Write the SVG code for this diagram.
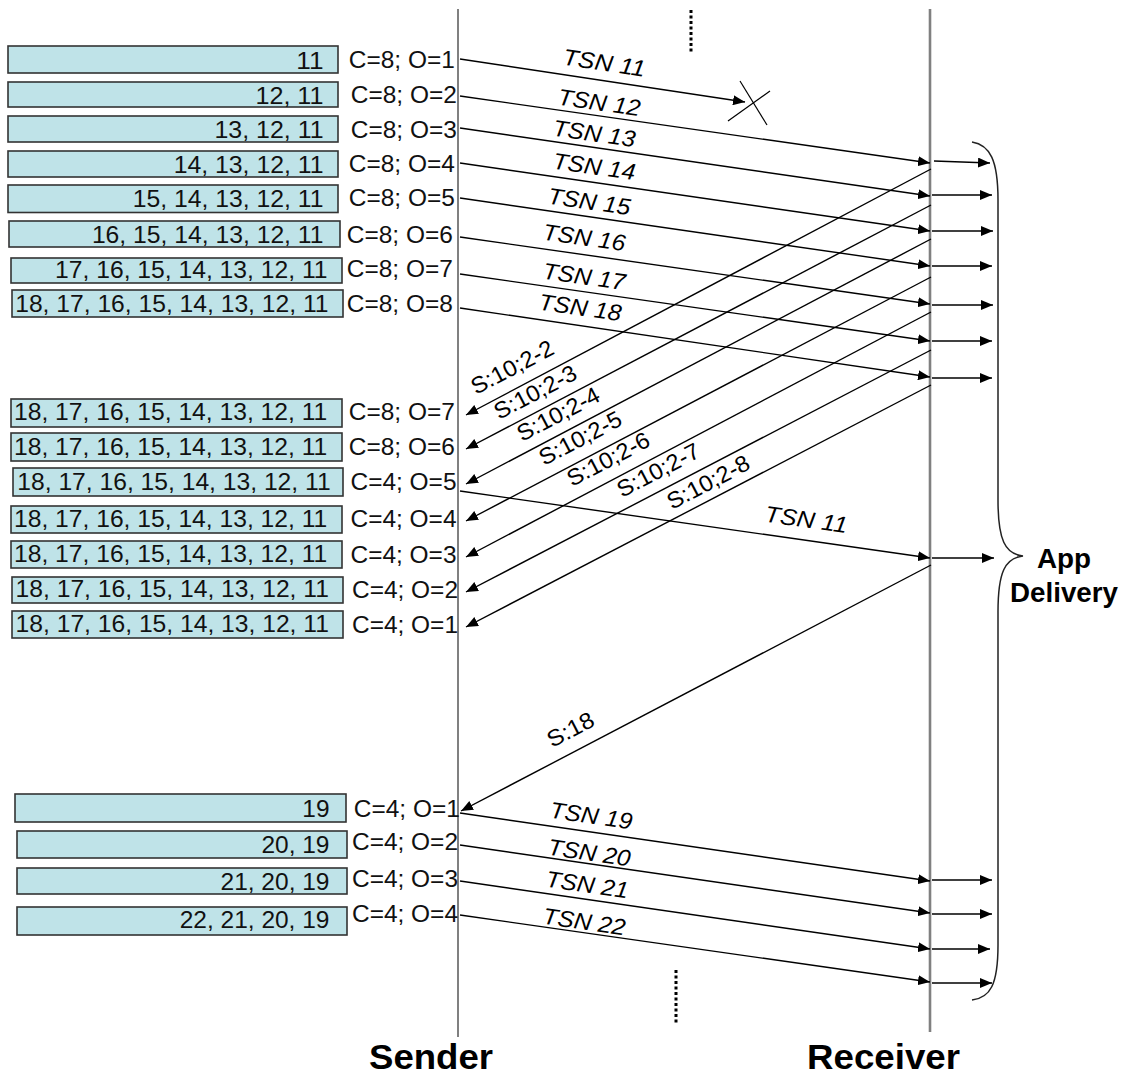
<svg xmlns="http://www.w3.org/2000/svg" width="1128" height="1074" viewBox="0 0 1128 1074">
<style>
.box{fill:#bfe3e8;stroke:#333;stroke-width:1.6}
.bt{font-family:"Liberation Sans",Arial,sans-serif;font-size:23px;fill:#111}
.cl{font-family:"Liberation Sans",Arial,sans-serif;font-size:23px;fill:#111}
.tsn{font-family:"Liberation Sans",Arial,sans-serif;font-size:23px;font-style:italic;fill:#000}
.sl{font-family:"Liberation Sans",Arial,sans-serif;font-size:23px;fill:#000}
.big{font-family:"Liberation Sans",Arial,sans-serif;font-weight:bold;fill:#000}
.life{stroke:#808080;fill:none}
.ar{stroke:#000;stroke-width:1.4;fill:none;marker-end:url(#ah)}
.dots{stroke:#000;stroke-width:3;stroke-dasharray:3 2.5;fill:none}
</style>
<defs>
<marker id="ah" viewBox="0 0 12 10" refX="12" refY="5" markerWidth="12" markerHeight="10" markerUnits="userSpaceOnUse" orient="auto"><path d="M0,0 L12,5 L0,10 z" fill="#000"/></marker>
</defs>
<rect width="1128" height="1074" fill="#fff"/>

<g id="lifelines">
<line class="life" x1="458" y1="9" x2="458" y2="1037" stroke-width="2"/>
<line class="life" x1="930" y1="9" x2="930" y2="1032" stroke-width="2.6"/>
<line class="dots" x1="691" y1="10" x2="691" y2="52"/>
<line class="dots" x1="676" y1="970" x2="676" y2="1023"/>
</g>

<g id="send-top">
<g id="b1"><rect class="box" x="8" y="46" width="330" height="27"/><text class="bt" x="296.3" y="69" textLength="27.2" lengthAdjust="spacingAndGlyphs">11</text><text class="cl" x="348.8" y="68" textLength="106" lengthAdjust="spacingAndGlyphs">C=8; O=1</text></g>
<g id="b2"><rect class="box" x="8" y="82" width="330" height="25"/><text class="bt" x="255.4" y="104" textLength="68.1" lengthAdjust="spacingAndGlyphs">12, 11</text><text class="cl" x="350.8" y="103" textLength="106" lengthAdjust="spacingAndGlyphs">C=8; O=2</text></g>
<g id="b3"><rect class="box" x="8" y="116" width="330" height="26"/><text class="bt" x="214.5" y="138" textLength="109" lengthAdjust="spacingAndGlyphs">13, 12, 11</text><text class="cl" x="350.8" y="138" textLength="106" lengthAdjust="spacingAndGlyphs">C=8; O=3</text></g>
<g id="b4"><rect class="box" x="8" y="151" width="330" height="26"/><text class="bt" x="173.7" y="173" textLength="149.8" lengthAdjust="spacingAndGlyphs">14, 13, 12, 11</text><text class="cl" x="348.8" y="172" textLength="106" lengthAdjust="spacingAndGlyphs">C=8; O=4</text></g>
<g id="b5"><rect class="box" x="8" y="185" width="330" height="27.5"/><text class="bt" x="132.8" y="207" textLength="190.7" lengthAdjust="spacingAndGlyphs">15, 14, 13, 12, 11</text><text class="cl" x="348.8" y="206" textLength="106" lengthAdjust="spacingAndGlyphs">C=8; O=5</text></g>
<g id="b6"><rect class="box" x="9" y="221" width="331" height="26"/><text class="bt" x="91.9" y="243" textLength="231.6" lengthAdjust="spacingAndGlyphs">16, 15, 14, 13, 12, 11</text><text class="cl" x="346.8" y="243" textLength="106" lengthAdjust="spacingAndGlyphs">C=8; O=6</text></g>
<g id="b7"><rect class="box" x="11" y="258" width="331" height="25"/><text class="bt" x="55.1" y="278" textLength="272.4" lengthAdjust="spacingAndGlyphs">17, 16, 15, 14, 13, 12, 11</text><text class="cl" x="346.8" y="277" textLength="106" lengthAdjust="spacingAndGlyphs">C=8; O=7</text></g>
<g id="b8"><rect class="box" x="12" y="290" width="331" height="27"/><text class="bt" x="15.2" y="312" textLength="313.3" lengthAdjust="spacingAndGlyphs">18, 17, 16, 15, 14, 13, 12, 11</text><text class="cl" x="346.8" y="312" textLength="106" lengthAdjust="spacingAndGlyphs">C=8; O=8</text></g>
</g>

<g id="send-mid">
<g id="c1"><rect class="box" x="11" y="399" width="331" height="28"/><text class="bt" x="14" y="420" textLength="313.3" lengthAdjust="spacingAndGlyphs">18, 17, 16, 15, 14, 13, 12, 11</text><text class="cl" x="348.8" y="420" textLength="106" lengthAdjust="spacingAndGlyphs">C=8; O=7</text></g>
<g id="c2"><rect class="box" x="11" y="433" width="331" height="28"/><text class="bt" x="14" y="455" textLength="313.3" lengthAdjust="spacingAndGlyphs">18, 17, 16, 15, 14, 13, 12, 11</text><text class="cl" x="348.8" y="455" textLength="106" lengthAdjust="spacingAndGlyphs">C=8; O=6</text></g>
<g id="c3"><rect class="box" x="13" y="468" width="330" height="28"/><text class="bt" x="17.3" y="490" textLength="313.3" lengthAdjust="spacingAndGlyphs">18, 17, 16, 15, 14, 13, 12, 11</text><text class="cl" x="350.5" y="490" textLength="106" lengthAdjust="spacingAndGlyphs">C=4; O=5</text></g>
<g id="c4"><rect class="box" x="11" y="506" width="331" height="27"/><text class="bt" x="14" y="527" textLength="313.3" lengthAdjust="spacingAndGlyphs">18, 17, 16, 15, 14, 13, 12, 11</text><text class="cl" x="350.5" y="527" textLength="106" lengthAdjust="spacingAndGlyphs">C=4; O=4</text></g>
<g id="c5"><rect class="box" x="11" y="541" width="331" height="27"/><text class="bt" x="14" y="562" textLength="313.3" lengthAdjust="spacingAndGlyphs">18, 17, 16, 15, 14, 13, 12, 11</text><text class="cl" x="350.5" y="563" textLength="106" lengthAdjust="spacingAndGlyphs">C=4; O=3</text></g>
<g id="c6"><rect class="box" x="12" y="577" width="331" height="26"/><text class="bt" x="15.6" y="597" textLength="313.3" lengthAdjust="spacingAndGlyphs">18, 17, 16, 15, 14, 13, 12, 11</text><text class="cl" x="352" y="598" textLength="106" lengthAdjust="spacingAndGlyphs">C=4; O=2</text></g>
<g id="c7"><rect class="box" x="12" y="611" width="331" height="27"/><text class="bt" x="15.6" y="632" textLength="313.3" lengthAdjust="spacingAndGlyphs">18, 17, 16, 15, 14, 13, 12, 11</text><text class="cl" x="352" y="633" textLength="106" lengthAdjust="spacingAndGlyphs">C=4; O=1</text></g>
</g>

<g id="send-bottom">
<g id="d1"><rect class="box" x="15" y="794" width="331" height="28"/><text class="bt" x="302.3" y="817" textLength="27.2" lengthAdjust="spacingAndGlyphs">19</text><text class="cl" x="353.8" y="817" textLength="106" lengthAdjust="spacingAndGlyphs">C=4; O=1</text></g>
<g id="d2"><rect class="box" x="17" y="831" width="330" height="27"/><text class="bt" x="261.4" y="853" textLength="68.1" lengthAdjust="spacingAndGlyphs">20, 19</text><text class="cl" x="352" y="850" textLength="106" lengthAdjust="spacingAndGlyphs">C=4; O=2</text></g>
<g id="d3"><rect class="box" x="17" y="868" width="330" height="26"/><text class="bt" x="220.5" y="890" textLength="109" lengthAdjust="spacingAndGlyphs">21, 20, 19</text><text class="cl" x="352" y="887" textLength="106" lengthAdjust="spacingAndGlyphs">C=4; O=3</text></g>
<g id="d4"><rect class="box" x="17" y="907" width="330" height="28"/><text class="bt" x="179.7" y="928" textLength="149.8" lengthAdjust="spacingAndGlyphs">22, 21, 20, 19</text><text class="cl" x="352" y="922" textLength="106" lengthAdjust="spacingAndGlyphs">C=4; O=4</text></g>
</g>

<g id="connectors">
<line class="ar" x1="460" y1="59" x2="745" y2="102"/>
<line class="ar" x1="460" y1="96" x2="930" y2="163"/>
<line class="ar" x1="460" y1="128" x2="930" y2="196"/>
<line class="ar" x1="460" y1="163" x2="930" y2="231"/>
<line class="ar" x1="460" y1="198" x2="930" y2="266"/>
<line class="ar" x1="460" y1="237" x2="930" y2="304"/>
<line class="ar" x1="460" y1="274" x2="930" y2="341"/>
<line class="ar" x1="460" y1="308" x2="930" y2="377"/>

<line class="ar" x1="931" y1="169" x2="466" y2="415"/>
<line class="ar" x1="931" y1="205" x2="466" y2="449"/>
<line class="ar" x1="931" y1="239" x2="466" y2="484"/>
<line class="ar" x1="931" y1="277" x2="466" y2="521"/>
<line class="ar" x1="931" y1="312" x2="466" y2="557"/>
<line class="ar" x1="931" y1="350" x2="466" y2="592"/>
<line class="ar" x1="931" y1="385" x2="466" y2="627"/>

<line class="ar" x1="460" y1="491" x2="930" y2="558"/>
<line class="ar" x1="931" y1="565" x2="461" y2="811"/>

<line class="ar" x1="460" y1="813" x2="930" y2="881"/>
<line class="ar" x1="460" y1="845" x2="930" y2="913"/>
<line class="ar" x1="460" y1="881" x2="930" y2="949"/>
<line class="ar" x1="460" y1="915" x2="930" y2="982"/>

<line class="ar" x1="934" y1="161" x2="990" y2="163"/>
<line class="ar" x1="932" y1="195" x2="992" y2="195"/>
<line class="ar" x1="932" y1="231" x2="993" y2="231"/>
<line class="ar" x1="932" y1="266" x2="992" y2="266"/>
<line class="ar" x1="932" y1="305" x2="993" y2="305"/>
<line class="ar" x1="932" y1="341" x2="992" y2="341"/>
<line class="ar" x1="932" y1="378" x2="992" y2="378"/>
<line class="ar" x1="932" y1="558" x2="994" y2="558"/>
<line class="ar" x1="932" y1="880" x2="992" y2="880"/>
<line class="ar" x1="932" y1="914" x2="992" y2="914"/>
<line class="ar" x1="932" y1="949" x2="990" y2="949"/>
<line class="ar" x1="932" y1="983" x2="992" y2="983"/>

<g id="lost" stroke="#000" stroke-width="1.2">
<line x1="728" y1="121" x2="770" y2="91"/>
<line x1="740" y1="81" x2="767" y2="125"/>
</g>
<path id="brace" d="M972,142 C990,145 998,160 998,200 L998,500 C998,540 1005,554 1023,556 C1005,558 998,572 998,612 L998,945 C998,985 990,998 972,1000" fill="none" stroke="#222" stroke-width="1.5"/>
</g>

<g id="labels">
<text class="tsn" x="562" y="64.5" transform="rotate(8.5 562 64.5)" textLength="83" lengthAdjust="spacingAndGlyphs">TSN 11</text>
<text class="tsn" x="557" y="104.5" transform="rotate(8.1 557 104.5)" textLength="83" lengthAdjust="spacingAndGlyphs">TSN 12</text>
<text class="tsn" x="552" y="135.5" transform="rotate(8.1 552 135.5)" textLength="83" lengthAdjust="spacingAndGlyphs">TSN 13</text>
<text class="tsn" x="552" y="168.5" transform="rotate(8.1 552 168.5)" textLength="83" lengthAdjust="spacingAndGlyphs">TSN 14</text>
<text class="tsn" x="547" y="203.5" transform="rotate(8.1 547 203.5)" textLength="83" lengthAdjust="spacingAndGlyphs">TSN 15</text>
<text class="tsn" x="542" y="239.5" transform="rotate(8.1 542 239.5)" textLength="83" lengthAdjust="spacingAndGlyphs">TSN 16</text>
<text class="tsn" x="542" y="278.5" transform="rotate(8.1 542 278.5)" textLength="83" lengthAdjust="spacingAndGlyphs">TSN 17</text>
<text class="tsn" x="538" y="309.5" transform="rotate(8.1 538 309.5)" textLength="83" lengthAdjust="spacingAndGlyphs">TSN 18</text>

<text class="sl" x="476" y="395" transform="rotate(-27.7 476 395)" textLength="90" lengthAdjust="spacingAndGlyphs">S:10;2-2</text>
<text class="sl" x="499" y="420" transform="rotate(-27.7 499 420)" textLength="90" lengthAdjust="spacingAndGlyphs">S:10;2-3</text>
<text class="sl" x="522" y="442" transform="rotate(-27.7 522 442)" textLength="90" lengthAdjust="spacingAndGlyphs">S:10;2-4</text>
<text class="sl" x="544" y="466" transform="rotate(-27.7 544 466)" textLength="90" lengthAdjust="spacingAndGlyphs">S:10;2-5</text>
<text class="sl" x="572" y="487" transform="rotate(-27.7 572 487)" textLength="90" lengthAdjust="spacingAndGlyphs">S:10;2-6</text>
<text class="sl" x="622" y="498" transform="rotate(-27.7 622 498)" textLength="90" lengthAdjust="spacingAndGlyphs">S:10;2-7</text>
<text class="sl" x="672" y="510" transform="rotate(-27.7 672 510)" textLength="90" lengthAdjust="spacingAndGlyphs">S:10;2-8</text>

<text class="tsn" x="764" y="521.5" transform="rotate(8.1 764 521.5)" textLength="83" lengthAdjust="spacingAndGlyphs">TSN 11</text>
<text class="sl" x="552" y="748" transform="rotate(-27.5 552 748)" textLength="50" lengthAdjust="spacingAndGlyphs">S:18</text>

<text class="tsn" x="549" y="817.5" transform="rotate(8.2 549 817.5)" textLength="83" lengthAdjust="spacingAndGlyphs">TSN 19</text>
<text class="tsn" x="547" y="854.5" transform="rotate(8.2 547 854.5)" textLength="83" lengthAdjust="spacingAndGlyphs">TSN 20</text>
<text class="tsn" x="545" y="886.5" transform="rotate(8.2 545 886.5)" textLength="83" lengthAdjust="spacingAndGlyphs">TSN 21</text>
<text class="tsn" x="542" y="923.5" transform="rotate(8.2 542 923.5)" textLength="83" lengthAdjust="spacingAndGlyphs">TSN 22</text>

<text class="big" x="1037" y="568" font-size="27" textLength="54" lengthAdjust="spacingAndGlyphs">App</text>
<text class="big" x="1010" y="602" font-size="27" textLength="108" lengthAdjust="spacingAndGlyphs">Delivery</text>
<text class="big" x="369" y="1069" font-size="35" textLength="124" lengthAdjust="spacingAndGlyphs">Sender</text>
<text class="big" x="807" y="1069" font-size="35" textLength="153" lengthAdjust="spacingAndGlyphs">Receiver</text>
</g>
</svg>
